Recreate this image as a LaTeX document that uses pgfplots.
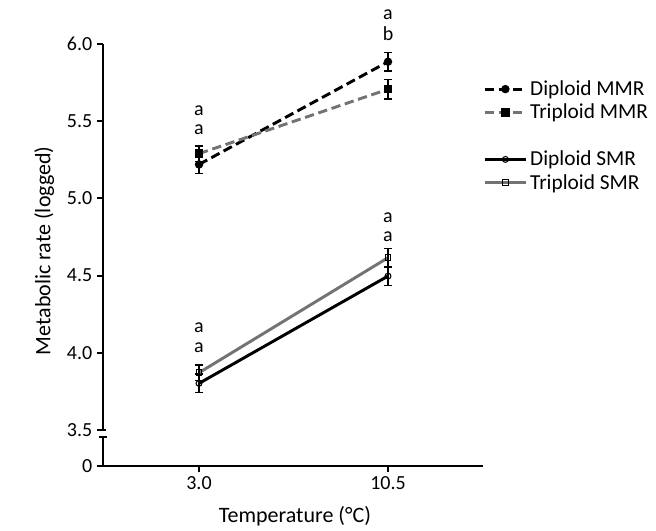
\documentclass[border=0pt]{standalone}
\usepackage{fontspec}
\setmainfont{Carlito}
\usepackage{pgfplots}
\pgfplotsset{compat=1.18}

\definecolor{tgray}{gray}{0.45}

\pgfplotsset{
  ebar/.style={error bars/.cd, y dir=both, y explicit,
    error bar style={solid, line width=1pt, black},
    error mark options={rotate=90, mark size=3pt, line width=1pt, black, solid}},
}
\tikzset{sig/.style={font=\fontsize{15}{17}\selectfont, inner sep=0pt}}

\begin{document}
\begin{tikzpicture}
\begin{axis}[
  scale only axis, width=285pt, height=316.5pt,
  xmin=-0.81, xmax=14.27, ymin=3.267, ymax=6.0,
  axis x line*=bottom, axis y line*=left,
  axis line style={-, line width=1.8pt},
  y axis line style={draw=none},
  xtick={3.0,10.5}, xticklabels={3.0,10.5},
  ytick={3.267,3.5,4.0,4.5,5.0,5.5,6.0},
  yticklabels={0,3.5,4.0,4.5,5.0,5.5,6.0},
  tick align=outside, major tick length=4.5pt,
  tick style={black, line width=1.5pt},
  ticklabel style={font=\fontsize{15}{17}\selectfont},
  /pgf/number format/assume math mode=true,
  xlabel={Temperature (°C)}, ylabel={Metabolic rate (logged)},
  label style={font=\fontsize{16.5}{19}\selectfont},
  xlabel style={at={(axis description cs:0.505,-0.12)}, anchor=center},
  ylabel style={at={(axis description cs:-0.155,0.51)}, anchor=center},
  legend style={draw=none, fill=none, inner sep=0pt, at={(rel axis cs:1,0.92)}, anchor=north west,
    font=\fontsize{16}{18}\selectfont, row sep=1pt, cells={anchor=west}},
  legend image code/.code={\draw[mark repeat=2, mark phase=2,#1] plot coordinates {(0pt,0pt)(15.5pt,0pt)(31pt,0pt)};},
  clip=false,
]
% page frame as in the reference
\path ([xshift=-77.25pt,yshift=-48pt]rel axis cs:0,0) rectangle ([xshift=129.75pt,yshift=33pt]rel axis cs:1,1);
% broken y axis
\draw[line width=1.8pt] (axis cs:-0.81,3.5) -- (axis cs:-0.81,6.0);
\draw[line width=1.5pt] (axis cs:-0.81,3.5) -- ([xshift=2.5pt]axis cs:-0.81,3.5);
\draw[line width=1.8pt] (axis cs:-0.81,3.267) -- (axis cs:-0.81,3.455);
\draw[line width=1.5pt] ([xshift=-3pt]axis cs:-0.81,3.455) -- ([xshift=3pt]axis cs:-0.81,3.455);

\addplot[black, line width=2.2pt, dash pattern=on 7pt off 3.5pt, mark=*, mark size=2pt,
  mark options={solid}, ebar] coordinates {(3.0,5.22) +- (0,0.06) (10.5,5.885) +- (0,0.06)};
\addlegendentry{Diploid MMR}
\addplot[tgray, line width=2.2pt, dash pattern=on 7pt off 3.5pt, mark=square*, mark size=2pt,
  mark options={solid, black}, ebar] coordinates {(3.0,5.29) +- (0,0.05) (10.5,5.707) +- (0,0.063)};
\addlegendentry{Triploid MMR}
\addlegendimage{empty legend}
\addlegendentry{\rule{0pt}{11pt}}
\addplot[black, line width=2.2pt, mark=o, mark size=2.2pt,
  mark options={fill=white, line width=0.8pt}, ebar] coordinates {(3.0,3.802) +- (0,0.06) (10.5,4.497) +- (0,0.06)};
\addlegendentry{Diploid SMR}
\addplot[tgray, line width=2.2pt, mark=square, mark size=2.2pt,
  mark options={fill=white, black, line width=0.8pt}, ebar] coordinates {(3.0,3.871) +- (0,0.05) (10.5,4.616) +- (0,0.06)};
\addlegendentry{Triploid SMR}

% significance letters
\node[sig] at (axis cs:3.0,5.568) {a};
\node[sig] at (axis cs:3.0,5.443) {a};
\node[sig] at (axis cs:10.5,6.188) {a};
\node[sig] at (axis cs:10.5,6.065) {b};
\node[sig] at (axis cs:3.0,4.160) {a};
\node[sig] at (axis cs:3.0,4.032) {a};
\node[sig] at (axis cs:10.5,4.873) {a};
\node[sig] at (axis cs:10.5,4.75) {a};
\end{axis}
\end{tikzpicture}
\end{document}
